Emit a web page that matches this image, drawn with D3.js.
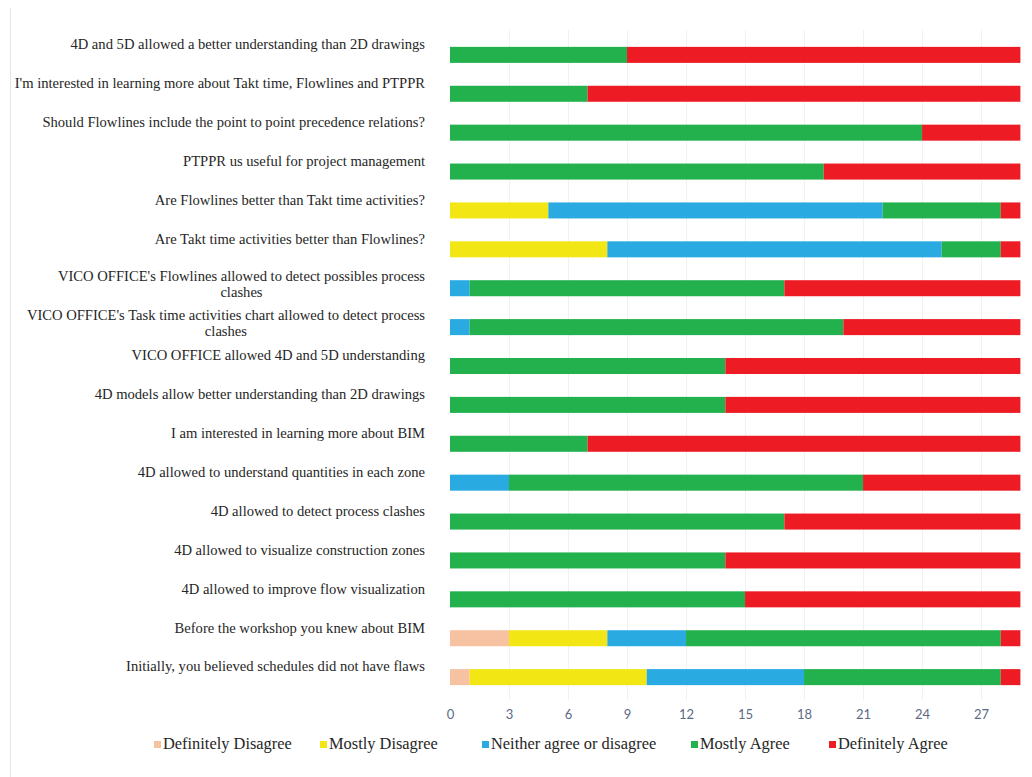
<!DOCTYPE html>
<html>
<head>
<meta charset="utf-8">
<script src="https://cdn.jsdelivr.net/npm/d3@7"></script>
<style>
  html, body { margin: 0; padding: 0; background: #fff; }
  svg { display: block; }
</style>
</head>
<body>
<svg id="chart" width="1032" height="777"></svg>
<script>
// Survey statements, top to bottom
const questions = [
  "4D and 5D allowed a better understanding than 2D drawings",
  "I'm interested in learning more about Takt time, Flowlines and PTPPR",
  "Should Flowlines include the point to point precedence relations?",
  "PTPPR us useful for project management",
  "Are Flowlines better than Takt time activities?",
  "Are Takt time activities better than Flowlines?",
  "VICO OFFICE's Flowlines allowed to detect possibles process|clashes",
  "VICO OFFICE's Task time activities chart allowed to detect process|clashes",
  "VICO OFFICE allowed 4D and 5D understanding",
  "4D models allow better understanding than 2D drawings",
  "I am interested in learning more about BIM",
  "4D allowed to understand quantities in each zone",
  "4D allowed to detect process clashes",
  "4D allowed to visualize construction zones",
  "4D allowed to improve flow visualization",
  "Before the workshop you knew about BIM",
  "Initially, you believed schedules did not have flaws"
];

// Response scale
const responses = ["Definitely Disagree", "Mostly Disagree", "Neither agree or disagree", "Mostly Agree", "Definitely Agree"];
const responseColors = ["#f7c2a2", "#f2e615", "#29abe2", "#22b14c", "#ed1c24"];

// Number of respondents per answer, one array per response level (same order as questions)
const definitelyDisagree = [0, 0, 0, 0, 0, 0, 0, 0, 0, 0, 0, 0, 0, 0, 0, 3, 1];
const mostlyDisagree     = [0, 0, 0, 0, 5, 8, 0, 0, 0, 0, 0, 0, 0, 0, 0, 5, 9];
const neither            = [0, 0, 0, 0, 17, 17, 1, 1, 0, 0, 0, 3, 0, 0, 0, 4, 8];
const mostlyAgree        = [9, 7, 24, 19, 6, 3, 16, 19, 14, 14, 7, 18, 17, 14, 15, 16, 10];
const definitelyAgree    = [20, 22, 5, 10, 1, 1, 12, 9, 15, 15, 22, 8, 12, 15, 14, 1, 1];

const xTicks = [0, 3, 6, 9, 12, 15, 18, 21, 24, 27];

const seriesValues = [definitelyDisagree, mostlyDisagree, neither, mostlyAgree, definitelyAgree];
const rows = questions.map((q, i) => {
  const r = { q };
  responses.forEach((name, k) => { r[name] = seriesValues[k][i]; });
  return r;
});

const svg = d3.select("#chart");

const x = d3.scaleLinear().domain([0, 29]).range([450, 1020.4]);
const y = d3.scaleBand().domain(questions).range([24, 708]).padding(0.588);
const color = d3.scaleOrdinal().domain(responses).range(responseColors);

// Frame line on the left
svg.append("line")
  .attr("x1", 10.5).attr("x2", 10.5).attr("y1", 8).attr("y2", 777)
  .attr("stroke", "#e4e4e4").attr("stroke-width", 1);

// Vertical gridlines
svg.append("g")
  .selectAll("line")
  .data(xTicks.slice(1))
  .join("line")
  .attr("x1", d => Math.round(x(d)) + 0.5)
  .attr("x2", d => Math.round(x(d)) + 0.5)
  .attr("y1", 30).attr("y2", 700)
  .attr("stroke", "#f1f1f1").attr("stroke-width", 1);

// Stacked bars
const stack = d3.stack().keys(responses);
const layers = stack(rows);

svg.append("g")
  .selectAll("g")
  .data(layers)
  .join("g")
  .attr("fill", d => color(d.key))
  .selectAll("rect")
  .data(d => d.filter(s => s[1] - s[0] > 0))
  .join("rect")
  .attr("x", d => x(d[0]))
  .attr("width", d => x(d[1]) - x(d[0]))
  .attr("y", d => y(d.data.q))
  .attr("height", y.bandwidth());

// Category labels (right-aligned block; wrapped labels centred within it)
const labelRight = 425;
const labelG = svg.append("g")
  .attr("font-family", "'Liberation Serif', 'Times New Roman', serif")
  .attr("font-size", 14.6)
  .attr("fill", "#262626");

questions.forEach(q => {
  const lines = q.split("|");
  const cy = y(q) + y.bandwidth() / 2;
  if (lines.length === 1) {
    labelG.append("text")
      .attr("x", labelRight).attr("y", cy - 9)
      .attr("text-anchor", "end")
      .attr("dominant-baseline", "middle")
      .text(lines[0]);
  } else {
    const t = labelG.append("text")
      .attr("text-anchor", "middle")
      .attr("dominant-baseline", "middle");
    const tmp = labelG.append("text").text(lines[0]);
    const w = tmp.node().getComputedTextLength();
    tmp.remove();
    const cx = labelRight - w / 2;
    lines.forEach((ln, k) => {
      t.append("tspan").attr("x", cx).attr("y", cy - 10 + k * 16).text(ln);
    });
  }
});

// X axis (labels only)
const xAxis = d3.axisBottom(x).tickValues(xTicks).tickSize(0).tickPadding(0);
const axisG = svg.append("g").attr("transform", "translate(0,710)").call(xAxis);
axisG.select(".domain").remove();
axisG.selectAll("text")
  .attr("font-family", "Lato, 'Open Sans', sans-serif")
  .attr("font-size", 13)
  .attr("fill", "#5d6a86");

// Legend
const legendX = [154, 320, 482, 691, 829];
const legend = svg.append("g")
  .attr("font-family", "'Liberation Serif', 'Times New Roman', serif")
  .attr("font-size", 16.4)
  .attr("fill", "#262626");
const li = legend.selectAll("g")
  .data(responses)
  .join("g")
  .attr("transform", (d, i) => `translate(${legendX[i]},745)`);
li.append("rect")
  .attr("x", 0).attr("y", -4).attr("width", 7).attr("height", 7)
  .attr("fill", d => color(d));
li.append("text")
  .attr("x", 9).attr("y", 0)
  .attr("dominant-baseline", "middle")
  .text(d => d);
</script>
</body>
</html>
